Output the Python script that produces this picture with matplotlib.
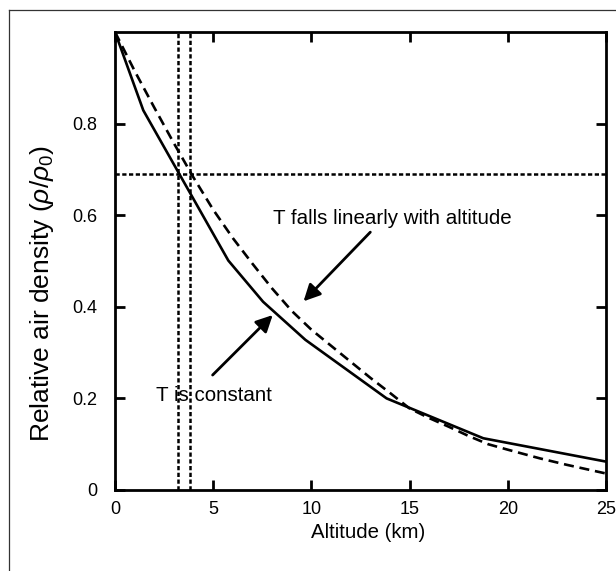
import matplotlib
matplotlib.use("Agg")
import matplotlib.pyplot as plt
from matplotlib.lines import Line2D

plt.rcParams['font.family'] = ['Liberation Sans', 'DejaVu Sans']
plt.rcParams['mathtext.fontset'] = 'custom'
plt.rcParams['mathtext.rm'] = 'Liberation Sans'
plt.rcParams['mathtext.it'] = 'Liberation Sans:italic'

# isothermal atmosphere (polyline)
alt_const = [0, 1.44, 5.77, 7.54, 9.69, 13.83, 18.75, 25]
rho_const = [1.0, 0.829, 0.501, 0.411, 0.328, 0.200, 0.113, 0.062]

# temperature falling linearly with altitude
alt_lapse = [0, 1, 2, 3, 4, 5, 6, 7, 8, 9, 10, 11, 12, 13, 14, 15, 16, 17, 18, 19, 20, 21.64, 23, 25]
rho_lapse = [1.0, 0.915, 0.835, 0.757, 0.682, 0.612, 0.550, 0.494, 0.440, 0.391, 0.350, 0.315,
             0.280, 0.245, 0.212, 0.178, 0.157, 0.138, 0.118, 0.100, 0.088, 0.069, 0.055, 0.036]

# reference lines
rho_ref = 0.69
alt_ref = [3.19, 3.83]

x_ticks = [0, 5, 10, 15, 20, 25]
y_ticks = [0, 0.2, 0.4, 0.6, 0.8]
y_tick_labels = ['0', '0.2', '0.4', '0.6', '0.8']


def main():
    fig = plt.figure(figsize=(6.16, 5.71), dpi=100)
    ax = fig.add_axes([115 / 616, 81 / 571, 491 / 616, 458 / 571])

    # frame around the picture (only left and top are visible)
    fig.add_artist(Line2D([9 / 616, 9 / 616], [0, 1 - 10 / 571], color='#333333', lw=0.9))
    fig.add_artist(Line2D([9 / 616, 1], [1 - 10 / 571, 1 - 10 / 571], color='#333333', lw=0.9))

    ax.plot(alt_const, rho_const, color='black', lw=1.9, solid_joinstyle='miter')
    ax.plot(alt_lapse, rho_lapse, color='black', lw=1.9, dashes=(3.8, 2.2))

    ax.axhline(rho_ref, color='black', lw=1.8, dashes=(1.7, 1.0))
    for a in alt_ref:
        ax.axvline(a, color='black', lw=1.8, dashes=(1.7, 1.0))

    ax.annotate('', xy=(9.6, 0.412), xytext=(13.0, 0.563),
                arrowprops=dict(arrowstyle='-|>', color='black', lw=2, mutation_scale=25,
                                shrinkA=0, shrinkB=0))
    ax.annotate('', xy=(8.03, 0.382), xytext=(4.97, 0.251),
                arrowprops=dict(arrowstyle='-|>', color='black', lw=2, mutation_scale=25,
                                shrinkA=0, shrinkB=0))
    ax.text(8.05, 0.593, 'T falls linearly with altitude', fontsize=14.8, va='center', ha='left')
    ax.text(2.07, 0.207, 'T is constant', fontsize=14.8, va='center', ha='left')

    ax.set_xlim(0, 25)
    ax.set_ylim(0, 1.0)
    ax.set_xticks(x_ticks)
    ax.set_yticks(y_ticks)
    ax.set_yticklabels(y_tick_labels)
    ax.tick_params(direction='in', length=7, width=2, labelsize=13,
                   top=True, right=True)
    ax.tick_params(axis='y', pad=13)
    ax.tick_params(axis='x', pad=8)
    for s in ax.spines.values():
        s.set_linewidth(2)

    ax.set_xlabel('Altitude (km)', fontsize=14.7)
    ax.xaxis.set_label_coords(0.515, -0.073)
    ax.set_ylabel(r'Relative air density ($\rho/\rho_0$)', fontsize=19)
    ax.yaxis.set_label_coords(-0.12, 0.428)

    fig.savefig('out.png', dpi=100)


if __name__ == '__main__':
    main()
